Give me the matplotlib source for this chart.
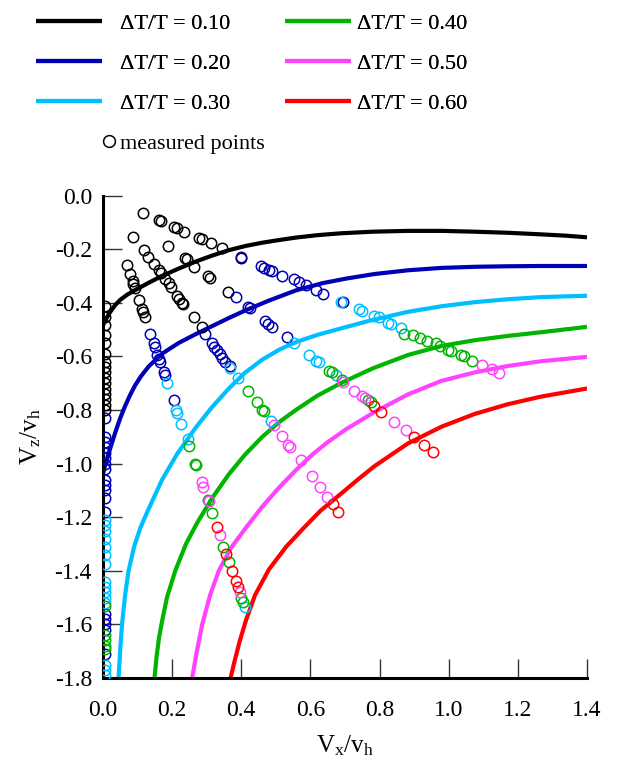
import matplotlib
matplotlib.use('Agg')
import matplotlib.pyplot as plt
from matplotlib.lines import Line2D

plt.rcParams['font.family'] = ['Liberation Serif', 'DejaVu Serif']
plt.rcParams['mathtext.fontset'] = 'custom'
plt.rcParams['mathtext.rm'] = 'Liberation Serif'

# ratios and colours
ratios = ['0.10', '0.20', '0.30', '0.40', '0.50', '0.60']
colors = ['#000000', '#0000b4', '#00bfff', '#00b400', '#ff44ff', '#ff0000']

# theoretical curves
curve_x = {
    '0.10': [0, 0.01, 0.02, 0.035, 0.05, 0.07, 0.093, 0.13, 0.171, 0.22, 0.267, 0.316, 0.364, 0.413,
             0.461, 0.51, 0.558, 0.62, 0.688, 0.78, 0.882, 0.98, 1.075, 1.17, 1.268, 1.34, 1.40],
    '0.20': [0, 0.008, 0.016, 0.035, 0.05, 0.064, 0.08, 0.093, 0.11, 0.132, 0.171, 0.219, 0.267, 0.316,
             0.364, 0.413, 0.48, 0.558, 0.635, 0.703, 0.785, 0.882, 0.98, 1.075, 1.17, 1.268, 1.40],
    '0.30': [0.045, 0.05, 0.055, 0.064, 0.074, 0.09, 0.108, 0.13, 0.171, 0.215, 0.267, 0.315, 0.364,
             0.41, 0.461, 0.51, 0.558, 0.62, 0.688, 0.78, 0.882, 0.98, 1.075, 1.17, 1.268, 1.40],
    '0.40': [0.149, 0.155, 0.162, 0.171, 0.185, 0.209, 0.24, 0.272, 0.315, 0.364, 0.41, 0.461, 0.51,
             0.558, 0.62, 0.688, 0.78, 0.882, 0.98, 1.075, 1.17, 1.268, 1.40],
    '0.50': [0.258, 0.27, 0.287, 0.31, 0.335, 0.37, 0.413, 0.46, 0.509, 0.56, 0.606, 0.65, 0.703,
             0.785, 0.882, 0.978, 1.075, 1.171, 1.268, 1.40],
    '0.60': [0.369, 0.38, 0.395, 0.413, 0.44, 0.48, 0.53, 0.577, 0.63, 0.688, 0.735, 0.785, 0.882,
             0.98, 1.075, 1.17, 1.268, 1.40],
}
curve_y = {
    '0.10': [-0.484, -0.458, -0.436, -0.409, -0.389, -0.370, -0.353, -0.327, -0.30, -0.272, -0.247,
             -0.224, -0.204, -0.188, -0.176, -0.166, -0.157, -0.148, -0.141, -0.135, -0.132, -0.132,
             -0.135, -0.139, -0.145, -0.150, -0.156],
    '0.20': [-1.038, -0.998, -0.963, -0.886, -0.83, -0.785, -0.74, -0.708, -0.674, -0.638, -0.59,
             -0.55, -0.518, -0.487, -0.457, -0.428, -0.392, -0.354, -0.327, -0.310, -0.293, -0.279,
             -0.270, -0.266, -0.264, -0.263, -0.263],
    '0.30': [-1.80, -1.69, -1.60, -1.49, -1.40, -1.31, -1.24, -1.175, -1.06, -0.963, -0.868, -0.79,
             -0.72, -0.662, -0.612, -0.575, -0.547, -0.52, -0.496, -0.464, -0.434, -0.413, -0.398,
             -0.387, -0.379, -0.374],
    '0.40': [-1.80, -1.72, -1.65, -1.587, -1.50, -1.40, -1.30, -1.222, -1.13, -1.04, -0.968, -0.90,
             -0.845, -0.80, -0.747, -0.70, -0.645, -0.595, -0.561, -0.54, -0.524, -0.51, -0.49],
    '0.50': [-1.80, -1.71, -1.60, -1.49, -1.40, -1.315, -1.24, -1.162, -1.09, -1.022, -0.966, -0.92,
             -0.872, -0.808, -0.742, -0.692, -0.66, -0.636, -0.618, -0.602],
    '0.60': [-1.80, -1.74, -1.665, -1.587, -1.49, -1.395, -1.31, -1.245, -1.175, -1.113, -1.062,
             -1.01, -0.925, -0.862, -0.815, -0.779, -0.750, -0.72],
}

# measured points
pts_x = {
    '0.10': [0.069, 0.079, 0.086, 0.088, 0.092, 0.103, 0.113, 0.116, 0.122,
             0.088, 0.118, 0.13, 0.147, 0.161, 0.169, 0.18, 0.192, 0.198, 0.214, 0.219, 0.229, 0.231, 0.263, 0.285,
             0.116, 0.161, 0.168, 0.205, 0.214, 0.234, 0.277, 0.287, 0.311, 0.343, 0.400,
             0.188, 0.236, 0.243, 0.263, 0.304, 0.309, 0.362,
             0.005, 0.005, 0.005, 0.005, 0.005, 0.005, 0.005, 0.005, 0.005, 0.005, 0.005, 0.005, 0.005, 0.005, 0.005, 0.005],
    '0.20': [0.137, 0.147, 0.151, 0.156, 0.161, 0.166, 0.176, 0.178, 0.205,
             0.296, 0.316, 0.322, 0.33, 0.337, 0.345, 0.354, 0.366,
             0.398, 0.456, 0.466, 0.48, 0.49, 0.519, 0.553, 0.567, 0.587, 0.616, 0.635, 0.693,
             0.384, 0.42, 0.425, 0.469, 0.478, 0.49, 0.533,
             0.005, 0.005, 0.005, 0.005, 0.005, 0.005, 0.005, 0.005, 0.005, 0.005, 0.005, 0.005, 0.005,
             0.005, 0.005, 0.005, 0.005, 0.005],
    '0.30': [0.185, 0.211, 0.213, 0.227, 0.246, 0.41,
             0.368, 0.391, 0.485,
             0.688, 0.741, 0.75, 0.785, 0.797, 0.824, 0.833, 0.862,
             0.553, 0.596, 0.616, 0.625, 0.674,
             0.005, 0.005, 0.005, 0.005, 0.005, 0.005, 0.005, 0.005, 0.005, 0.005, 0.005, 0.005,
             0.005, 0.005, 0.005],
    '0.40': [0.25, 0.266, 0.268, 0.304, 0.316, 0.347, 0.364, 0.40, 0.405,
             0.419, 0.446, 0.461, 0.465,
             0.872, 0.896, 0.918, 0.938, 0.964, 0.975, 0.998, 1.007, 1.036, 1.045, 1.067,
             0.654, 0.662, 0.69, 0.766, 0.775,
             0.005, 0.005, 0.005, 0.005, 0.005],
    '0.50': [0.285, 0.289, 0.306, 0.337, 0.395,
             0.495, 0.517, 0.536, 0.54, 0.572, 0.604, 0.627, 0.647,
             1.096, 1.125, 1.145,
             0.693, 0.727, 0.748, 0.757, 0.843, 0.877],
    '0.60': [0.33, 0.357, 0.374, 0.385, 0.391,
             0.664, 0.679,
             0.785, 0.804, 0.901, 0.928, 0.954],
}
pts_y = {
    '0.10': [-0.26, -0.293, -0.318, -0.33, -0.345, -0.39, -0.425, -0.435, -0.453,
             -0.154, -0.203, -0.228, -0.256, -0.278, -0.29, -0.31, -0.328, -0.343, -0.375, -0.385, -0.40, -0.405, -0.455, -0.492,
             -0.064, -0.091, -0.095, -0.116, -0.12, -0.135, -0.16, -0.163, -0.178, -0.197, -0.232,
             -0.188, -0.234, -0.238, -0.266, -0.30, -0.307, -0.359,
             -0.413, -0.453, -0.484, -0.52, -0.552, -0.59, -0.62, -0.64, -0.66, -0.68, -0.70, -0.72, -0.74, -0.76, -0.78, -0.80],
    '0.20': [-0.515, -0.552, -0.565, -0.596, -0.61, -0.62, -0.658, -0.668, -0.764,
             -0.517, -0.55, -0.565, -0.577, -0.59, -0.605, -0.62, -0.637,
             -0.228, -0.263, -0.27, -0.278, -0.283, -0.30, -0.313, -0.322, -0.334, -0.353, -0.368, -0.397,
             -0.38, -0.415, -0.42, -0.468, -0.478, -0.49, -0.527,
             -0.83, -0.90, -0.92, -0.94, -0.96, -0.98, -1.00, -1.02, -1.06, -1.08, -1.10, -1.13, -1.18,
             -1.56, -1.58, -1.60, -1.62, -1.71],
    '0.30': [-0.70, -0.80, -0.81, -0.854, -0.907, -1.534,
             -0.642, -0.68, -0.841,
             -0.397, -0.425, -0.43, -0.45, -0.455, -0.475, -0.48, -0.496,
             -0.552, -0.596, -0.617, -0.622, -0.671,
             -1.21, -1.23, -1.25, -1.28, -1.31, -1.34, -1.375, -1.44, -1.46, -1.48, -1.50, -1.52,
             -1.75, -1.77, -1.79],
    '0.40': [-0.936, -1.0, -1.005, -1.135, -1.185, -1.312, -1.368, -1.50, -1.518,
             -0.729, -0.77, -0.80, -0.805,
             -0.515, -0.521, -0.53, -0.542, -0.552, -0.56, -0.577, -0.58, -0.596, -0.60, -0.617,
             -0.654, -0.66, -0.69, -0.764, -0.77,
             -1.53, -1.64, -1.66, -1.68, -1.69],
    '0.50': [-1.07, -1.086, -1.14, -1.268, -1.481,
             -0.857, -0.899, -0.932, -0.94, -0.988, -1.045, -1.088, -1.125,
             -0.633, -0.646, -0.662,
             -0.696, -0.73, -0.749, -0.755, -0.845, -0.876],
    '0.60': [-1.235, -1.337, -1.40, -1.437, -1.462,
             -1.15, -1.181,
             -0.786, -0.808, -0.901, -0.932, -0.957],
}

fig = plt.figure(figsize=(6.18, 7.67), dpi=100)
ax = fig.add_axes([103 / 618, 1 - 678 / 767, 484 / 618, 482.5 / 767])

handles = []
for r, c in zip(ratios, colors):
    ln, = ax.plot(curve_x[r], curve_y[r], color=c, lw=3, zorder=2,
                  solid_capstyle='butt', solid_joinstyle='round', label='ΔT/T = ' + r)
    handles.append(ln)

for r, c in zip(ratios, colors):
    ax.plot(pts_x[r], pts_y[r], 'o', mfc='none', mec=c, ms=7.5, mew=1.1, zorder=3)

ax.set_xlim(0, 1.4)
ax.set_ylim(-1.8, 0)
ax.set_xticks([0.0, 0.2, 0.4, 0.6, 0.8, 1.0, 1.2, 1.4])
ax.set_yticks([0.0, -0.2, -0.4, -0.6, -0.8, -1.0, -1.2, -1.4, -1.6, -1.8])
ax.xaxis.set_major_formatter(plt.FormatStrFormatter('%.1f'))
ax.yaxis.set_major_formatter(plt.FormatStrFormatter('%.1f'))
ax.tick_params(direction='in', length=14, width=1.0, color='#333333', labelsize=17)
ax.tick_params(axis='x', pad=16)
ax.tick_params(axis='y', pad=8)
for s in ['top', 'right']:
    ax.spines[s].set_visible(False)
for s in ['left', 'bottom']:
    ax.spines[s].set_linewidth(2.2)

ax.set_xlabel(r'$\mathregular{V_x/v_h}$', fontsize=18, labelpad=9)
ax.set_ylabel(r'$\mathregular{V_z/v_h}$', fontsize=18, labelpad=8)

# legend: two columns of lines, then the marker entry
leg_kw = dict(loc='upper left', frameon=False, fontsize=16, handlelength=2.97,
              labelspacing=0.88, borderpad=0, borderaxespad=0)
leg1 = fig.legend(handles=handles[:3], bbox_to_anchor=(36 / 618, 1 - 13.5 / 767),
                  handletextpad=0.81, **leg_kw)
leg2 = fig.legend(handles=handles[3:], bbox_to_anchor=(285 / 618, 1 - 13.5 / 767),
                  handletextpad=0.27, **leg_kw)
mh = Line2D([], [], ls='none', marker='o', mfc='none', mec='black', ms=8.5, mew=1.1)
leg3 = fig.legend(handles=[mh], labels=['measured points'], loc='upper left',
                  bbox_to_anchor=(100 / 618, 1 - 133.5 / 767), frameon=False, fontsize=16,
                  handlelength=0.8, handletextpad=0.1, borderpad=0, borderaxespad=0)
fig.add_artist(leg1)
fig.add_artist(leg2)

fig.savefig('out.png', dpi=100)
